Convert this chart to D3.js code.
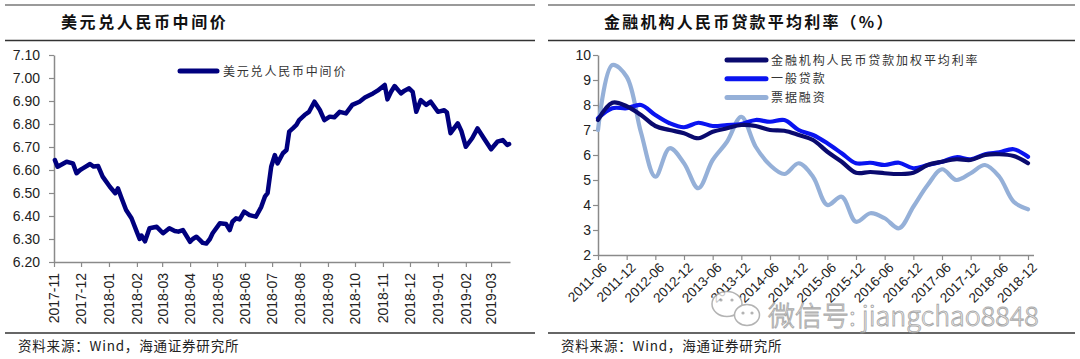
<!DOCTYPE html>
<html><head><meta charset="utf-8">
<script src="https://cdn.jsdelivr.net/npm/d3@7"></script>
<style>
body{margin:0;background:#fff;}
svg{display:block;}
</style></head><body>
<svg id="c" width="1080" height="359"></svg>
<script>
// ---------- Left chart data: USD/CNY central parity ----------
const fxTitle = "美元兑人民币中间价";
const fxLegend = "美元兑人民币中间价";
const fxDates = ["2017-11-02","2017-11-05","2017-11-10","2017-11-15","2017-11-22","2017-11-26","2017-11-30",
"2017-12-03","2017-12-11","2017-12-15","2017-12-20","2017-12-25","2018-01-02","2018-01-08","2018-01-11",
"2018-01-15","2018-01-20","2018-01-26","2018-02-01","2018-02-04","2018-02-06","2018-02-10","2018-02-15",
"2018-02-23","2018-03-02","2018-03-09","2018-03-15","2018-03-19","2018-03-24","2018-04-01","2018-04-04",
"2018-04-08","2018-04-12","2018-04-15","2018-04-19","2018-04-23","2018-04-26","2018-05-04","2018-05-11",
"2018-05-15","2018-05-18","2018-05-22","2018-05-26","2018-05-31","2018-06-06","2018-06-13","2018-06-19",
"2018-06-23","2018-06-26","2018-06-30","2018-07-04","2018-07-07","2018-07-13","2018-07-17","2018-07-20",
"2018-07-24","2018-07-28","2018-07-31","2018-08-06","2018-08-11","2018-08-17","2018-08-23","2018-08-28",
"2018-09-03","2018-09-08","2018-09-14","2018-09-21","2018-09-28","2018-10-06","2018-10-12","2018-10-21",
"2018-10-26","2018-11-03","2018-11-06","2018-11-10","2018-11-14","2018-11-21","2018-11-25","2018-11-30",
"2018-12-04","2018-12-08","2018-12-13","2018-12-19","2018-12-24","2019-01-01","2019-01-08","2019-01-11",
"2019-01-15","2019-01-23","2019-01-27","2019-02-01","2019-02-08","2019-02-14","2019-02-21","2019-03-01",
"2019-03-08","2019-03-14","2019-03-19","2019-03-21"];
const fxValues = [6.643,6.614,6.625,6.636,6.629,6.586,6.600,
6.607,6.626,6.615,6.617,6.571,6.527,6.499,6.520,
6.477,6.426,6.390,6.330,6.300,6.315,6.290,6.347,
6.353,6.325,6.347,6.335,6.332,6.339,6.288,6.300,
6.310,6.295,6.283,6.280,6.300,6.325,6.368,6.365,
6.339,6.375,6.390,6.385,6.419,6.404,6.397,6.440,
6.484,6.499,6.614,6.665,6.629,6.673,6.687,6.767,
6.781,6.796,6.817,6.839,6.853,6.897,6.861,6.817,
6.832,6.829,6.853,6.846,6.883,6.897,6.915,6.933,
6.945,6.970,6.907,6.940,6.965,6.933,6.945,6.955,
6.940,6.853,6.904,6.883,6.897,6.853,6.860,6.850,
6.760,6.803,6.770,6.701,6.738,6.781,6.738,6.690,
6.723,6.730,6.709,6.713];
const fxYTicks = [6.20,6.30,6.40,6.50,6.60,6.70,6.80,6.90,7.00,7.10];

// ---------- Right chart data: loan rates (%) ----------
const rateTitle = "金融机构人民币贷款平均利率（%）";
const rateCategories = ["2011-06","2011-09","2011-12","2012-03","2012-06","2012-09","2012-12","2013-03",
"2013-06","2013-09","2013-12","2014-03","2014-06","2014-09","2014-12","2015-03","2015-06","2015-09",
"2015-12","2016-03","2016-06","2016-09","2016-12","2017-03","2017-06","2017-09","2017-12","2018-03",
"2018-06","2018-09","2018-12"];
const weightedRate = [7.40,8.09,7.95,7.60,7.16,7.00,6.87,6.67,6.93,7.07,7.20,7.16,7.00,6.97,6.80,6.60,
6.13,5.73,5.29,5.32,5.27,5.24,5.29,5.60,5.73,5.83,5.80,6.00,6.03,5.96,5.67];
const generalRate = [7.47,7.87,7.87,8.00,7.60,7.27,7.11,7.29,7.16,7.20,7.24,7.40,7.33,7.40,7.00,6.80,
6.47,6.07,5.67,5.69,5.60,5.69,5.47,5.60,5.73,5.91,5.83,6.03,6.11,6.23,5.93];
const billRate = [7.00,9.60,9.13,6.90,5.13,6.27,5.67,4.67,5.80,6.53,7.53,6.33,5.60,5.24,5.67,5.13,
4.00,4.33,3.33,3.67,3.47,3.07,3.93,4.80,5.43,5.00,5.27,5.60,5.13,4.13,3.83];
const rateSeriesNames = ["金融机构人民币贷款加权平均利率","一般贷款","票据融资"];
const rateYTicks = [2,3,4,5,6,7,8,9,10];
const rateTickLabels = ["2011-06","2011-12","2012-06","2012-12","2013-06","2013-12","2014-06","2014-12",
"2015-06","2015-12","2016-06","2016-12","2017-06","2017-12","2018-06","2018-12"];

const sourceText = "资料来源：Wind，海通证券研究所";
const watermarkText = "微信号: jiangchao8848";

// ---------- Drawing ----------
const svg = d3.select("#c");
const CJK = "'Noto Sans CJK SC','Noto Sans',sans-serif";
const LAT = "'Liberation Sans',Arial,sans-serif";
const axisCol = "#8a8a8a";

function frame(x0, x1, title, titleX, ls) {
  svg.append("line").attr("x1", x0).attr("x2", x1).attr("y1", 5).attr("y2", 5)
    .attr("stroke", "#9a9a9a").attr("stroke-width", 2);
  svg.append("line").attr("x1", x0).attr("x2", x1).attr("y1", 40.5).attr("y2", 40.5)
    .attr("stroke", "#333").attr("stroke-width", 1.5);
  svg.append("line").attr("x1", x0).attr("x2", x1).attr("y1", 333).attr("y2", 333)
    .attr("stroke", "#333").attr("stroke-width", 1.5);
  svg.append("text").attr("x", titleX).attr("y", 28).text(title)
    .attr("font-family", CJK).attr("font-weight", 700).attr("font-size", 16)
    .attr("letter-spacing", ls).attr("fill", "#111");
  svg.append("text").attr("x", x0 + 13).attr("y", 351).text(sourceText)
    .attr("font-family", CJK).attr("font-size", 13.5).attr("letter-spacing", 0.8).attr("fill", "#222");
}
frame(5, 535, fxTitle, 61, 2.6);
frame(548, 1075, rateTitle, 604, 2.2);

function styleAxis(g) {
  g.select(".domain").attr("stroke", axisCol).attr("stroke-width", 1.5);
  g.selectAll(".tick line").attr("stroke", axisCol).attr("stroke-width", 1.2);
  g.selectAll("text").attr("font-family", LAT).attr("fill", "#222");
}

// Left chart
const parse = d3.timeParse("%Y-%m-%d");
const fxData = fxDates.map((d, i) => ({ date: parse(d), value: fxValues[i] }));
const xL = d3.scaleTime().domain([new Date(2017, 10, 1), new Date(2019, 2, 22)]).range([54, 510]);
const yL = d3.scaleLinear().domain([6.2, 7.1]).range([262, 55]);

const gxL = svg.append("g").attr("transform", "translate(0,262)")
  .call(d3.axisBottom(xL).ticks(d3.timeMonth.every(1)).tickFormat(d3.timeFormat("%Y-%m"))
    .tickSize(5).tickSizeOuter(0));
styleAxis(gxL);
gxL.selectAll("text").attr("font-size", 14).attr("text-anchor", "end")
  .attr("transform", "translate(0,11) rotate(-90)").attr("x", 0).attr("y", 0).attr("dy", "0.35em");

const gyL = svg.append("g").attr("transform", "translate(54,0)")
  .call(d3.axisLeft(yL).tickValues(fxYTicks).tickFormat(d3.format(".2f")).tickSize(5).tickPadding(9).tickSizeOuter(0));
styleAxis(gyL);
gyL.selectAll("text").attr("font-size", 14);

svg.append("path").datum(fxData)
  .attr("d", d3.line().x(d => xL(d.date)).y(d => yL(d.value)))
  .attr("fill", "none").attr("stroke", "#00007e").attr("stroke-width", 4.5)
  .attr("stroke-linejoin", "round").attr("stroke-linecap", "round");

svg.append("line").attr("x1", 180).attr("x2", 217).attr("y1", 71).attr("y2", 71)
  .attr("stroke", "#00007e").attr("stroke-width", 5).attr("stroke-linecap", "round");
svg.append("text").attr("x", 223).attr("y", 75.5).text(fxLegend)
  .attr("font-family", CJK).attr("font-size", 12).attr("letter-spacing", 1.8).attr("fill", "#333");

// Right chart
const xR = d3.scalePoint().domain(rateCategories).range([598, 1028]);
const yR = d3.scaleLinear().domain([2, 10]).range([255, 55]);

const gxR = svg.append("g").attr("transform", "translate(0,255)")
  .call(d3.axisBottom(xR).tickValues(rateTickLabels).tickSize(5).tickSizeOuter(0));
gxR.select(".domain").attr("d", "M598,0.5H1034");
styleAxis(gxR);
gxR.selectAll("text").attr("font-size", 13.5).attr("text-anchor", "end")
  .attr("transform", "translate(6,10) rotate(-45)").attr("x", 0).attr("y", 0).attr("dy", "0.35em");

const gyR = svg.append("g").attr("transform", "translate(598,0)")
  .call(d3.axisLeft(yR).tickValues(rateYTicks).tickSize(5).tickPadding(2).tickSizeOuter(0));
styleAxis(gyR);
gyR.selectAll("text").attr("font-size", 14);

const rateSeries = [
  { name: rateSeriesNames[2], values: billRate, color: "#95b0d8" },
  { name: rateSeriesNames[1], values: generalRate, color: "#0a14f0" },
  { name: rateSeriesNames[0], values: weightedRate, color: "#0a0a6e" }
];
const lineR = d3.line().x((d, i) => xR(rateCategories[i])).y(d => yR(d)).curve(d3.curveCatmullRom.alpha(0.5));
rateSeries.forEach(s => {
  svg.append("path").datum(s.values).attr("d", lineR)
    .attr("fill", "none").attr("stroke", s.color).attr("stroke-width", 4.2)
    .attr("stroke-linejoin", "round").attr("stroke-linecap", "round");
});

const legendOrder = [rateSeries[2], rateSeries[1], rateSeries[0]];
legendOrder.forEach((s, i) => {
  const y = 60 + i * 18.7;
  svg.append("line").attr("x1", 727).attr("x2", 766).attr("y1", y).attr("y2", y)
    .attr("stroke", s.color).attr("stroke-width", 5).attr("stroke-linecap", "round");
  svg.append("text").attr("x", 771).attr("y", y + 4.5).text(s.name)
    .attr("font-family", CJK).attr("font-size", 12).attr("letter-spacing", 1.9).attr("fill", "#333");
});

// Watermark
const wm = svg.append("g").attr("opacity", 0.75);
wm.append("ellipse").attr("cx", 727).attr("cy", 304).attr("rx", 15).attr("ry", 12.5)
  .attr("fill", "#fff").attr("stroke", "#9a9a9a").attr("stroke-width", 1.5);
wm.append("ellipse").attr("cx", 747).attr("cy", 315).attr("rx", 12.5).attr("ry", 10.5)
  .attr("fill", "#fff").attr("stroke", "#9a9a9a").attr("stroke-width", 1.5);
[[721,300],[732,300],[743,313],[752,313]].forEach(p =>
  wm.append("circle").attr("cx", p[0]).attr("cy", p[1]).attr("r", 1.6).attr("fill", "#9a9a9a"));
wm.append("text").attr("x", 768).attr("y", 326).text(watermarkText)
  .attr("font-family", "'Noto Sans CJK SC',sans-serif").attr("font-weight", 300).attr("font-size", 27)
  .attr("fill", "#ffffff").attr("stroke", "#8c8c8c").attr("stroke-width", 0.9);
</script>
</body></html>
